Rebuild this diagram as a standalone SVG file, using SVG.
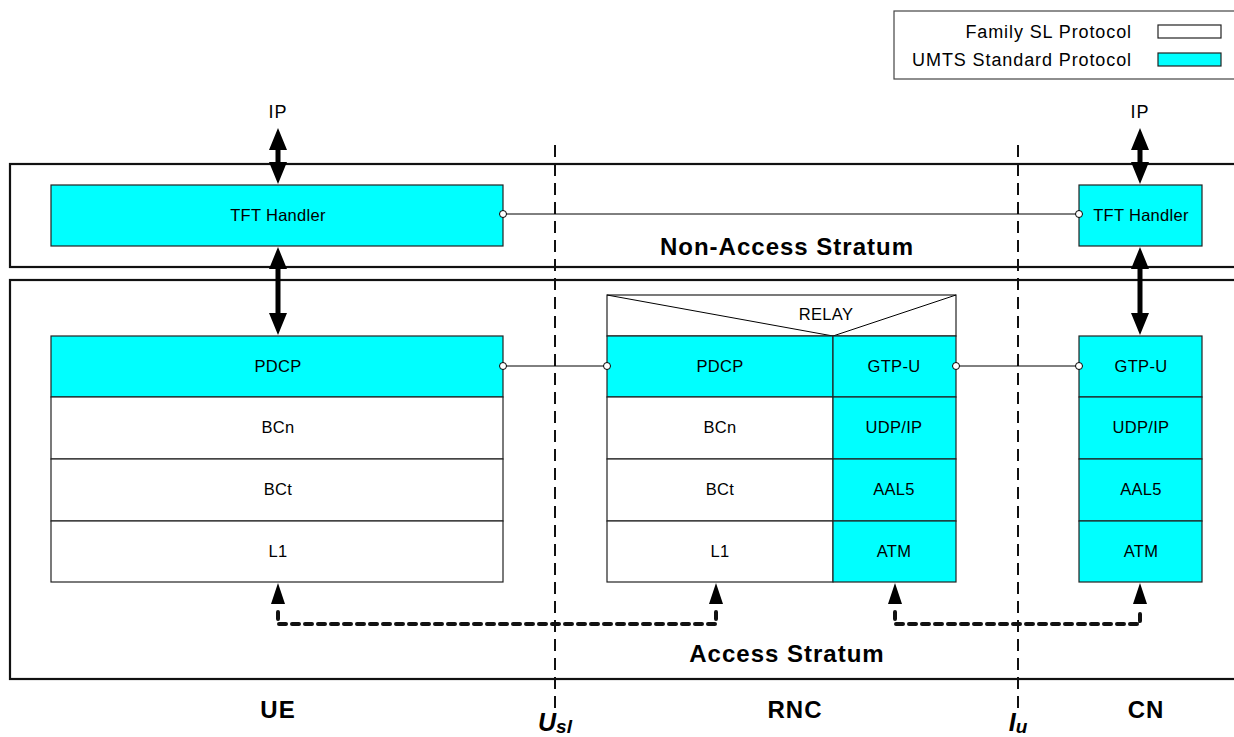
<svg xmlns="http://www.w3.org/2000/svg" width="1234" height="737" viewBox="0 0 1234 737">
<style>
text{font-family:"Liberation Sans",Arial,sans-serif;fill:#000}
.box{stroke:#222;stroke-width:1.2}
.c{fill:#00FFFF}
.w{fill:#fff}
.t{font-size:16.5px;text-anchor:middle;letter-spacing:0.3px}
.big{font-size:24px;font-weight:bold;text-anchor:middle;letter-spacing:1px}
.frame{fill:none;stroke:#111;stroke-width:2.2}
.dash{stroke:#111;stroke-width:2;stroke-dasharray:12,7;fill:none}
.dot{stroke:#111;stroke-width:4;stroke-dasharray:7,6;stroke-linecap:round;fill:none}
.ln{stroke:#000;stroke-width:1;fill:none}
.pin{fill:#fff;stroke:#000;stroke-width:1}
.lg{font-size:18px;text-anchor:end;letter-spacing:0.9px}
</style>
<rect width="1234" height="737" fill="#fff"/>
<g id="legend">
<rect x="894" y="11" width="345" height="68" fill="#fff" stroke="#444" stroke-width="1.2"/>
<text x="1132" y="38" class="lg">Family SL Protocol</text>
<text x="1132" y="66" class="lg">UMTS Standard Protocol</text>
<rect x="1158" y="25" width="63" height="13" class="box w"/>
<rect x="1158" y="53" width="63" height="13" class="box c"/>
</g>
<g id="strata">
<rect x="10" y="164" width="1240" height="103" class="frame"/>
<rect x="10" y="280" width="1240" height="399" class="frame"/>
<text x="787" y="255" class="big">Non-Access Stratum</text>
<text x="787" y="662" class="big">Access Stratum</text>
</g>
<g id="interfaces">
<line x1="555" y1="145" x2="555" y2="708" class="dash"/>
<line x1="1018" y1="145" x2="1018" y2="712" class="dash"/>
<text x="555" y="731" font-size="25" font-weight="bold" font-style="italic" text-anchor="middle">U<tspan font-size="19" dy="2">sl</tspan></text>
<text x="1018" y="731" font-size="25" font-weight="bold" font-style="italic" text-anchor="middle">I<tspan font-size="19" dy="2">u</tspan></text>
</g>
<g id="ue">
<rect x="51" y="185" width="452" height="61" class="box c"/>
<text x="278" y="221" class="t">TFT Handler</text>
<rect x="51" y="336" width="452" height="61" class="box c"/>
<text x="278" y="372" class="t">PDCP</text>
<rect x="51" y="397" width="452" height="62" class="box w"/>
<text x="278" y="433" class="t">BCn</text>
<rect x="51" y="459" width="452" height="62" class="box w"/>
<text x="278" y="495" class="t">BCt</text>
<rect x="51" y="521" width="452" height="61" class="box w"/>
<text x="278" y="557" class="t">L1</text>
<text x="278" y="718" class="big">UE</text>
</g>
<g id="rnc">
<rect x="607" y="295" width="349" height="41" class="box w"/>
<polyline points="607,295 833,336 956,295" class="ln" stroke-width="1.5"/>
<text x="826" y="320" class="t">RELAY</text>
<rect x="607" y="336" width="226" height="61" class="box c"/>
<text x="720" y="372" class="t">PDCP</text>
<rect x="607" y="397" width="226" height="62" class="box w"/>
<text x="720" y="433" class="t">BCn</text>
<rect x="607" y="459" width="226" height="62" class="box w"/>
<text x="720" y="495" class="t">BCt</text>
<rect x="607" y="521" width="226" height="61" class="box w"/>
<text x="720" y="557" class="t">L1</text>
<rect x="833" y="336" width="123" height="61" class="box c"/>
<text x="894" y="372" class="t">GTP-U</text>
<rect x="833" y="397" width="123" height="62" class="box c"/>
<text x="894" y="433" class="t">UDP/IP</text>
<rect x="833" y="459" width="123" height="62" class="box c"/>
<text x="894" y="495" class="t">AAL5</text>
<rect x="833" y="521" width="123" height="61" class="box c"/>
<text x="894" y="557" class="t">ATM</text>
<text x="795" y="718" class="big">RNC</text>
</g>
<g id="cn">
<rect x="1079" y="185" width="123" height="61" class="box c"/>
<text x="1141" y="221" class="t">TFT Handler</text>
<rect x="1079" y="336" width="123" height="61" class="box c"/>
<text x="1141" y="372" class="t">GTP-U</text>
<rect x="1079" y="397" width="123" height="62" class="box c"/>
<text x="1141" y="433" class="t">UDP/IP</text>
<rect x="1079" y="459" width="123" height="62" class="box c"/>
<text x="1141" y="495" class="t">AAL5</text>
<rect x="1079" y="521" width="123" height="61" class="box c"/>
<text x="1141" y="557" class="t">ATM</text>
<text x="1146" y="718" class="big">CN</text>
</g>
<g id="connectors">
<line x1="503" y1="214" x2="1079" y2="214" class="ln"/>
<circle cx="503" cy="214" r="3.5" class="pin"/>
<circle cx="1079" cy="214" r="3.5" class="pin"/>
<line x1="503" y1="366" x2="607" y2="366" class="ln"/>
<circle cx="503" cy="366" r="3.5" class="pin"/>
<circle cx="607" cy="366" r="3.5" class="pin"/>
<line x1="956" y1="366" x2="1079" y2="366" class="ln"/>
<circle cx="956" cy="366" r="3.5" class="pin"/>
<circle cx="1079" cy="366" r="3.5" class="pin"/>
<text x="278" y="118" font-size="18" letter-spacing="1" text-anchor="middle">IP</text>
<text x="1140" y="118" font-size="18" letter-spacing="1" text-anchor="middle">IP</text>
<path d="M278,128 L287,150 L280.5,150 L280.5,162 L287,162 L278,184 L269,162 L275.5,162 L275.5,150 L269,150 Z"/>
<path d="M1140,128 L1149,150 L1142.5,150 L1142.5,162 L1149,162 L1140,184 L1131,162 L1137.5,162 L1137.5,150 L1131,150 Z"/>
<path d="M278,247 L287,269 L280.5,269 L280.5,313 L287,313 L278,335 L269,313 L275.5,313 L275.5,269 L269,269 Z"/>
<path d="M1140,247 L1149,269 L1142.5,269 L1142.5,313 L1149,313 L1140,335 L1131,313 L1137.5,313 L1137.5,269 L1131,269 Z"/>
<path d="M278,612 L278,624 L716,624 L716,610" class="dot"/>
<path d="M895,612 L895,624 L1140,624 L1140,610" class="dot"/>
<path d="M278,583 L285,604 L271,604 Z"/>
<path d="M716,583 L723,604 L709,604 Z"/>
<path d="M895,583 L902,604 L888,604 Z"/>
<path d="M1140,583 L1147,604 L1133,604 Z"/>
</g>
</svg>
